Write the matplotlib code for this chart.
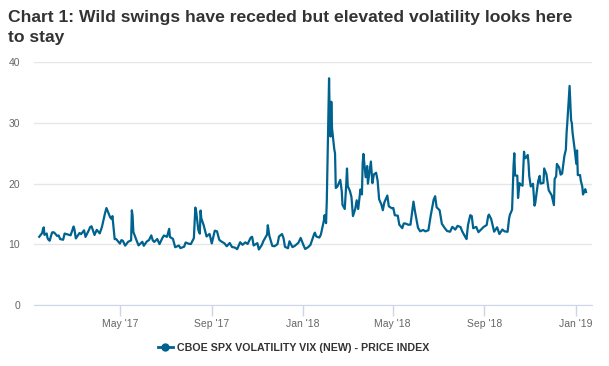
import matplotlib
matplotlib.use('Agg')
import matplotlib.pyplot as plt
import pandas as pd

plt.rcParams['font.family'] = ['Liberation Sans', 'DejaVu Sans']

title = 'Chart 1: Wild swings have receded but elevated volatility looks here\nto stay'
series_name = 'CBOE SPX VOLATILITY VIX (NEW) - PRICE INDEX'

# VIX closes (date, level)
dates_2017 = [
    '2017-01-13', '2017-01-17', '2017-01-18', '2017-01-19', '2017-01-20', '2017-01-23',
    '2017-01-24', '2017-01-25', '2017-01-27', '2017-01-30', '2017-01-31', '2017-02-02',
    '2017-02-06', '2017-02-08', '2017-02-10', '2017-02-14', '2017-02-16', '2017-02-21',
    '2017-02-24', '2017-02-28', '2017-03-01', '2017-03-03', '2017-03-08', '2017-03-10',
    '2017-03-14', '2017-03-16', '2017-03-21', '2017-03-22', '2017-03-24', '2017-03-28',
    '2017-03-31', '2017-04-04', '2017-04-07', '2017-04-11', '2017-04-13', '2017-04-18',
    '2017-04-20', '2017-04-21', '2017-04-24', '2017-04-26', '2017-05-01', '2017-05-03',
    '2017-05-05', '2017-05-08', '2017-05-12', '2017-05-16', '2017-05-17', '2017-05-18',
    '2017-05-19', '2017-05-23', '2017-05-26', '2017-05-31', '2017-06-02', '2017-06-06',
    '2017-06-09', '2017-06-12', '2017-06-14', '2017-06-16', '2017-06-20', '2017-06-23',
    '2017-06-27', '2017-06-29', '2017-07-03', '2017-07-06', '2017-07-07', '2017-07-11',
    '2017-07-14', '2017-07-19', '2017-07-21', '2017-07-26', '2017-07-28', '2017-08-01',
    '2017-08-04', '2017-08-08', '2017-08-10', '2017-08-11', '2017-08-14', '2017-08-16',
    '2017-08-17', '2017-08-18', '2017-08-21', '2017-08-23', '2017-08-25', '2017-08-29',
    '2017-09-01', '2017-09-05', '2017-09-08', '2017-09-11', '2017-09-14', '2017-09-18',
    '2017-09-21', '2017-09-25', '2017-09-28', '2017-10-02', '2017-10-05', '2017-10-09',
    '2017-10-12', '2017-10-16', '2017-10-19', '2017-10-23', '2017-10-25', '2017-10-27',
    '2017-11-01', '2017-11-03', '2017-11-07', '2017-11-09', '2017-11-14', '2017-11-15',
    '2017-11-17', '2017-11-21', '2017-11-24', '2017-11-28', '2017-11-30', '2017-12-04',
    '2017-12-06', '2017-12-08', '2017-12-12', '2017-12-14', '2017-12-18', '2017-12-21',
    '2017-12-26', '2017-12-29',
]
vix_2017 = [
    11.23, 11.87, 12.48, 12.78, 11.54, 11.77,
    11.07, 10.81, 10.58, 11.88, 11.99, 11.93,
    11.37, 11.45, 10.85, 10.74, 11.76, 11.57,
    11.47, 12.92, 12.54, 10.96, 11.86, 11.66,
    12.30, 11.21, 12.47, 12.81, 12.96, 11.53,
    12.37, 11.79, 12.87, 15.07, 15.96, 14.42,
    14.15, 14.63, 10.84, 10.85, 10.11, 10.68,
    10.57, 9.77, 10.40, 10.65, 15.59, 14.66,
    12.04, 10.72, 9.81, 10.41, 9.75, 10.45,
    10.70, 11.46, 10.64, 10.38, 10.86, 10.02,
    11.06, 11.44, 11.22, 12.54, 11.19, 10.89,
    9.51, 9.79, 9.36, 9.60, 10.29, 10.09,
    10.03, 11.00, 16.04, 15.51, 12.33, 11.74,
    15.55, 14.26, 13.19, 12.25, 11.28, 11.70,
    10.13, 12.23, 12.12, 10.73, 10.44, 10.15,
    9.67, 10.21, 9.55, 9.45, 9.19, 10.33,
    9.91, 10.31, 10.05, 11.07, 11.23, 9.80,
    10.18, 9.14, 9.89, 10.50, 11.59, 13.13,
    11.43, 9.73, 9.67, 10.03, 11.28, 11.68,
    11.02, 9.58, 9.34, 10.49, 9.53, 9.72,
    10.25, 11.04,
]

dates_2018 = [
    '2018-01-02', '2018-01-04', '2018-01-08', '2018-01-11', '2018-01-16', '2018-01-17',
    '2018-01-19', '2018-01-23', '2018-01-25', '2018-01-29', '2018-01-30', '2018-02-01',
    '2018-02-02', '2018-02-05', '2018-02-06', '2018-02-07', '2018-02-08', '2018-02-09',
    '2018-02-12', '2018-02-13', '2018-02-14', '2018-02-16', '2018-02-20', '2018-02-22',
    '2018-02-23', '2018-02-26', '2018-02-28', '2018-03-01', '2018-03-02', '2018-03-05',
    '2018-03-07', '2018-03-09', '2018-03-12', '2018-03-14', '2018-03-16', '2018-03-19',
    '2018-03-21', '2018-03-22', '2018-03-23', '2018-03-26', '2018-03-28', '2018-03-29',
    '2018-04-02', '2018-04-04', '2018-04-06', '2018-04-09', '2018-04-11', '2018-04-13',
    '2018-04-16', '2018-04-18', '2018-04-20', '2018-04-24', '2018-04-26', '2018-04-30',
    '2018-05-02', '2018-05-04', '2018-05-08', '2018-05-10', '2018-05-14', '2018-05-16',
    '2018-05-18', '2018-05-22', '2018-05-25', '2018-05-29', '2018-05-31', '2018-06-04',
    '2018-06-07', '2018-06-11', '2018-06-14', '2018-06-18', '2018-06-21', '2018-06-25',
    '2018-06-27', '2018-06-29', '2018-07-03', '2018-07-06', '2018-07-10', '2018-07-13',
    '2018-07-17', '2018-07-20', '2018-07-24', '2018-07-27', '2018-07-31', '2018-08-02',
    '2018-08-06', '2018-08-08', '2018-08-10', '2018-08-13', '2018-08-15', '2018-08-17',
    '2018-08-21', '2018-08-24', '2018-08-28', '2018-08-31', '2018-09-04', '2018-09-06',
    '2018-09-07', '2018-09-10', '2018-09-12', '2018-09-14', '2018-09-18', '2018-09-21',
    '2018-09-25', '2018-09-28', '2018-10-02', '2018-10-04', '2018-10-05', '2018-10-08',
    '2018-10-10', '2018-10-11', '2018-10-12', '2018-10-15', '2018-10-16', '2018-10-18',
    '2018-10-19', '2018-10-22', '2018-10-24', '2018-10-25', '2018-10-26', '2018-10-29',
    '2018-10-30', '2018-10-31', '2018-11-02', '2018-11-05', '2018-11-07', '2018-11-08',
    '2018-11-12', '2018-11-14', '2018-11-15', '2018-11-19', '2018-11-20', '2018-11-23',
    '2018-11-26', '2018-11-28', '2018-11-30', '2018-12-03', '2018-12-04', '2018-12-06',
    '2018-12-07', '2018-12-10', '2018-12-12', '2018-12-14', '2018-12-17', '2018-12-19',
    '2018-12-20', '2018-12-21', '2018-12-24', '2018-12-26', '2018-12-27', '2018-12-28',
    '2018-12-31',
]
vix_2018 = [
    9.77, 9.22, 9.52, 9.88, 11.66, 11.91,
    11.27, 11.10, 11.58, 13.84, 14.79, 13.47,
    17.31, 37.32, 29.98, 27.73, 33.46, 29.06,
    25.61, 24.97, 19.26, 19.46, 20.60, 18.72,
    16.49, 15.80, 19.85, 22.47, 19.59, 18.73,
    17.76, 14.64, 15.78, 17.23, 15.80, 19.02,
    18.20, 23.34, 24.87, 21.03, 22.87, 19.97,
    23.62, 20.06, 21.49, 21.77, 20.47, 17.41,
    16.56, 15.60, 16.88, 18.02, 16.24, 15.93,
    15.97, 14.77, 14.71, 13.23, 12.65, 13.42,
    13.42, 13.22, 13.22, 17.02, 15.43, 12.74,
    12.13, 12.35, 12.12, 12.31, 14.64, 17.33,
    17.91, 16.09, 15.60, 13.37, 12.64, 12.18,
    12.06, 12.86, 12.41, 13.03, 12.83, 12.19,
    11.27, 10.85, 13.16, 14.78, 14.64, 12.64,
    12.86, 11.99, 12.50, 12.86, 13.16, 14.65,
    14.88, 14.16, 13.14, 12.07, 12.79, 11.68,
    12.42, 12.12, 12.05, 14.22, 14.82, 15.69,
    22.96, 24.98, 21.31, 21.30, 17.62, 20.06,
    19.89, 19.64, 25.23, 24.22, 24.16, 24.70,
    23.35, 21.23, 19.51, 19.96, 16.36, 16.72,
    20.45, 21.25, 19.98, 20.10, 22.48, 21.52,
    18.90, 18.49, 18.07, 16.44, 20.74, 21.19,
    23.23, 22.64, 21.46, 21.63, 24.52, 25.58,
    28.38, 30.11, 36.07, 30.41, 29.96, 28.34,
    25.42,
]

dates_2019 = ['2019-01-02', '2019-01-03', '2019-01-04', '2019-01-07', '2019-01-08',
              '2019-01-09', '2019-01-10', '2019-01-11', '2019-01-14', '2019-01-15']
vix_2019 = [23.22, 25.45, 21.38, 21.40, 20.47, 19.98, 19.50, 18.19, 19.07, 18.60]

dates = pd.to_datetime(dates_2017 + dates_2018 + dates_2019)
vix = vix_2017 + vix_2018 + vix_2019

tick_dates = pd.to_datetime(['2017-05-01', '2017-09-01', '2018-01-01',
                             '2018-05-01', '2018-09-01', '2019-01-01'])
tick_labels = ["May '17", "Sep '17", "Jan '18", "May '18", "Sep '18", "Jan '19"]

line_color = '#00628f'
grey_text = '#666666'

fig = plt.figure(figsize=(6.09, 3.66), dpi=100)
ax = fig.add_axes([34 / 609, 61 / 366, 558 / 609, 243 / 366])

ax.plot(dates, vix, color=line_color, lw=1.6, solid_joinstyle='round')

ax.set_ylim(0, 40)
ax.set_yticks([0, 10, 20, 30, 40])
ax.set_xlim(pd.Timestamp('2017-01-06'), pd.Timestamp('2019-01-23'))
ax.set_xticks(tick_dates)
ax.set_xticklabels(tick_labels)

ax.grid(axis='y', color='#e6e6e6', lw=1)
ax.set_axisbelow(True)
for side in ['top', 'right', 'left']:
    ax.spines[side].set_visible(False)
ax.spines['bottom'].set_color('#ccd6eb')
ax.tick_params(axis='x', colors='#ccd6eb', length=8, width=1, labelcolor=grey_text,
               labelsize=7.5, pad=2)
ax.tick_params(axis='y', length=0, labelcolor=grey_text, labelsize=7.5, pad=10)

fig.text(8 / 609, 1 - 10 / 366, title, ha='left', va='top', fontsize=12.6,
         fontweight='bold', color='#333333', linespacing=1.45)

# legend drawn as a line-with-marker proxy below the axis
leg = fig.legend([plt.Line2D([], [], color=line_color, lw=2, marker='o', markersize=5)],
                 [series_name], loc='center', bbox_to_anchor=(293.5 / 609, 1 - 348 / 366),
                 frameon=False, handlelength=1.4, handletextpad=0.4,
                 prop={'size': 7.7, 'weight': 'bold'})
for t in leg.get_texts():
    t.set_color('#333333')

fig.savefig('out.png', dpi=100)
